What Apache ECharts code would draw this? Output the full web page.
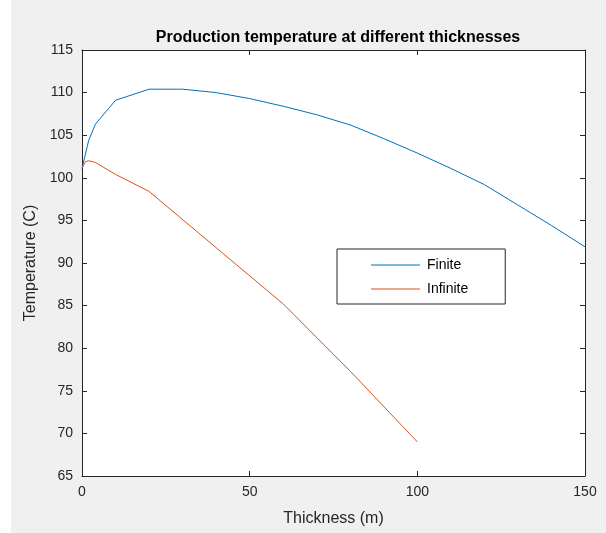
<!DOCTYPE html>
<html>
<head>
<meta charset="utf-8">
<title>Production temperature at different thicknesses</title>
<script src="https://cdn.jsdelivr.net/npm/echarts@6/dist/echarts.min.js"></script>
<style>
  html, body { margin: 0; padding: 0; background: #ffffff; }
  #frame { position: absolute; left: 11px; top: 0; width: 595px; height: 533px; background: #f0f0f0; }
  #chart { position: absolute; left: 0; top: 0; width: 606px; height: 533px; }
</style>
</head>
<body>
<div id="frame"></div>
<div id="chart"></div>
<script>
// Thickness (m) and production temperature (C) for each reservoir model
const finiteThickness = [0, 2, 4, 10, 20, 30, 40, 50, 60, 70, 80, 90, 100, 110, 120, 130, 140, 150];
const finiteTemp = [101.1, 104.4, 106.3, 109.1, 110.4, 110.4, 110.0, 109.3, 108.4, 107.4, 106.2, 104.6, 102.9, 101.1, 99.2, 96.8, 94.4, 91.9];
const infiniteThickness = [0, 1, 2, 4, 10, 20, 40, 60, 80, 100];
const infiniteTemp = [101.1, 101.9, 102.0, 101.8, 100.4, 98.4, 91.8, 85.2, 77.3, 69.0];
const xTicks = [0, 50, 100, 150];
const yTicks = [65, 70, 75, 80, 85, 90, 95, 100, 105, 110, 115];

const pairs = (xs, ys) => xs.map((x, i) => [x, ys[i]]);
const FONT = "'Liberation Sans', Arial, Helvetica, sans-serif";
const AX = '#262626';

const chart = echarts.init(document.getElementById('chart'), null, { renderer: 'canvas' });

const axisCommon = {
  axisLine: { show: true, onZero: false, lineStyle: { color: AX, width: 1 } },
  axisTick: { show: true, inside: true, length: 5, lineStyle: { color: AX, width: 1 } },
  splitLine: { show: false }
};

chart.setOption({
  backgroundColor: 'transparent',
  animation: false,
  title: {
    text: 'Production temperature at different thicknesses',
    left: 333, top: 25, textAlign: 'center',
    textStyle: { fontFamily: FONT, fontSize: 16, fontWeight: 'bold', color: '#000' }
  },
  grid: { left: 82, right: 21, top: 50, bottom: 57, show: true, backgroundColor: '#ffffff', borderWidth: 0 },
  legend: {
    left: 337, top: 249,
    orient: 'vertical',
    backgroundColor: '#ffffff',
    borderColor: AX, borderWidth: 1,
    padding: [9, 37, 8, 34],
    itemGap: 10,
    itemWidth: 49, itemHeight: 1,
    icon: 'rect',
    textStyle: { fontFamily: FONT, fontSize: 14, color: '#000', padding: [0, 0, 0, 2] },
    data: ['Finite', 'Infinite']
  },
  xAxis: [
    Object.assign({}, axisCommon, {
      type: 'value', min: 0, max: 150, interval: 50, position: 'bottom',
      name: 'Thickness (m)', nameLocation: 'middle', nameGap: 35,
      nameTextStyle: { fontFamily: FONT, fontSize: 16, color: AX },
      axisLabel: { margin: 9, fontFamily: FONT, fontSize: 14, color: AX,
        formatter: v => xTicks.includes(v) ? String(v) : '' }
    }),
    Object.assign({}, axisCommon, {
      type: 'value', min: 0, max: 150, interval: 50, position: 'top',
      axisLabel: { show: false }
    })
  ],
  yAxis: [
    Object.assign({}, axisCommon, {
      type: 'value', min: 65, max: 115, interval: 5, position: 'left',
      name: 'Temperature (C)', nameLocation: 'middle', nameGap: 43,
      nameTextStyle: { fontFamily: FONT, fontSize: 16, color: AX },
      axisLabel: { margin: 9, fontFamily: FONT, fontSize: 14, color: AX,
        formatter: v => yTicks.includes(v) ? String(v) : '' }
    }),
    Object.assign({}, axisCommon, {
      type: 'value', min: 65, max: 115, interval: 5, position: 'right',
      axisLabel: { show: false }
    })
  ],
  series: [
    {
      name: 'Finite', type: 'line', xAxisIndex: 0, yAxisIndex: 0,
      data: pairs(finiteThickness, finiteTemp),
      showSymbol: false, symbol: 'none',
      lineStyle: { color: '#0072BD', width: 1 },
      itemStyle: { color: '#0072BD' }
    },
    {
      name: 'Infinite', type: 'line', xAxisIndex: 0, yAxisIndex: 0,
      data: pairs(infiniteThickness, infiniteTemp),
      showSymbol: false, symbol: 'none',
      lineStyle: { color: '#D95319', width: 1 },
      itemStyle: { color: '#D95319' }
    }
  ]
});
</script>
</body>
</html>
